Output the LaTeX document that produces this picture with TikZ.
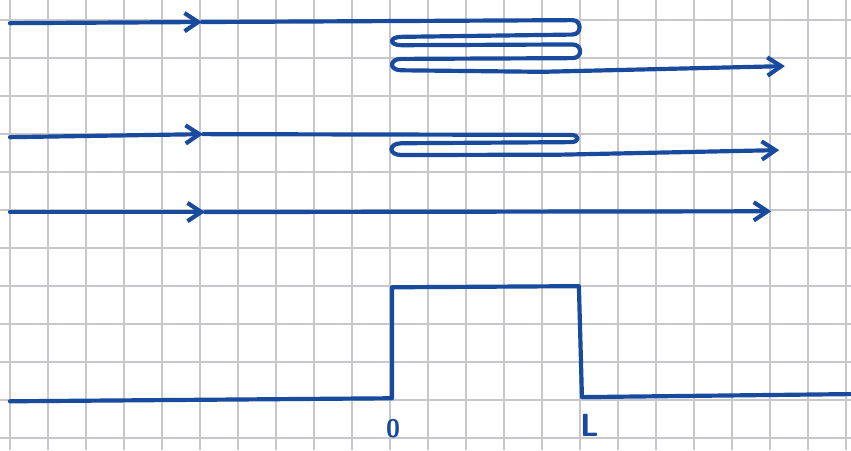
\documentclass[tikz,border=0pt]{standalone}
\usepackage{tikz}
\usetikzlibrary{
    arrows.meta,
    positioning
}
\definecolor{InkBlue}{RGB}{24,74,158}
\definecolor{PaperGrid}{RGB}{200,200,204}

\begin{document}
\begin{tikzpicture}[
    >={Straight Barb[length=3.6mm, width=4.8mm, line width=1.1mm]},
    ink/.style={InkBlue, line width=1.1mm, line cap=round, line join=round},
    inklabel/.style={InkBlue, font=\sffamily\bfseries}
]

% Paper
\useasboundingbox (-0.263,-0.316) rectangle (22.13,11.53);
\draw[step=1cm, PaperGrid, line width=0.6mm]
    (-0.263,-0.316) grid (22.13,11.53);

% Top path: two loops
\draw[->, ink]
    (0,10.92) -- (5.05,10.95);
\draw[->, ink]
    (5.05,10.95) -- (14.8,11.0)
    .. controls (15.05,11.0) and (15.05,10.62) .. (14.8,10.62)
    -- (10.3,10.56)
    .. controls (9.97,10.56) and (9.97,10.34) .. (10.3,10.34)
    -- (14.8,10.36)
    .. controls (15.07,10.36) and (15.07,10.0) .. (14.8,10.0)
    -- (10.3,9.98)
    .. controls (9.97,9.98) and (9.97,9.68) .. (10.3,9.68)
    -- (14.0,9.64) -- (20.39,9.79);

% Middle path: one loop
\draw[->, ink]
    (0,7.92) -- (5.08,8.0);
\draw[->, ink]
    (5.08,8.0) -- (14.75,7.98)
    .. controls (15.0,7.98) and (15.0,7.79) .. (14.75,7.79)
    -- (10.3,7.76)
    .. controls (9.95,7.76) and (9.95,7.45) .. (10.3,7.45)
    -- (14.5,7.46) -- (20.24,7.58);

% Straight path
\draw[->, ink]
    (0,5.95) -- (5.13,5.95);
\draw[->, ink]
    (5.13,5.95) -- (20.03,5.97);

% Barrier
\draw[ink]
    (0,0.97) -- (10.05,1.05)
    -- (10.05,3.97) -- (14.97,4.0)
    -- (15.05,1.08) -- (22.13,1.16);

% Labels
\node[inklabel, font=\sffamily\bfseries\fontsize{19}{19}\selectfont]
    (zero) at (10.08,0.24) {0};
\node[inklabel, font=\sffamily\bfseries\fontsize{24}{24}\selectfont]
    (len) at (15.25,0.34) {L};

\end{tikzpicture}
\end{document}
